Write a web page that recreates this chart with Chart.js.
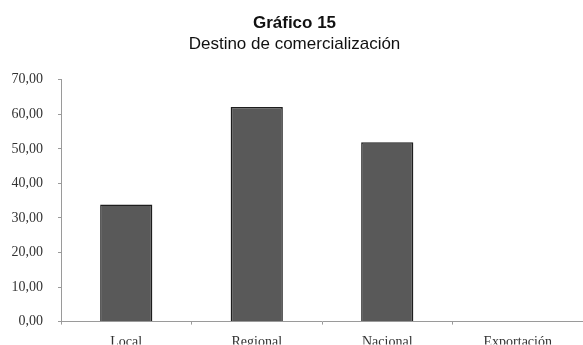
<!DOCTYPE html>
<html>
<head>
<meta charset="utf-8">
<script src="https://cdn.jsdelivr.net/npm/chart.js@4"></script>
<style>
    html, body { margin: 0; padding: 0; background: #ffffff; }
    #wrap { width: 583px; height: 345px; }
</style>
</head>
<body>
<div id="wrap"><canvas id="chart" width="583" height="345"></canvas></div>
<script>
// Chart data
const categories = ["Local", "Regional", "Nacional", "Exportación"];
const values = [33.9, 62.1, 51.9, 0];
const yTicks = [0, 10, 20, 30, 40, 50, 60, 70];

const axisColor = "#9a9a9a";
const labelColor = "#333333";

// Format numbers like "70,00"
function formatComma(v) {
    return v.toFixed(2).replace(".", ",");
}

new Chart(document.getElementById("chart"), {
    type: "bar",
    data: {
        labels: categories,
        datasets: [{
            data: values,
            backgroundColor: "#595959",
            borderColor: "#1e1e1e",
            borderWidth: 1.5,
            barPercentage: 0.4,
            categoryPercentage: 1
        }]
    },
    options: {
        responsive: false,
        animation: false,
        layout: { padding: { left: 6, right: 0, top: 0, bottom: 0 } },
        plugins: {
            legend: { display: false },
            tooltip: { enabled: false },
            title: {
                display: true,
                text: "Gráfico 15",
                color: "#111111",
                font: { family: "Liberation Sans, Arial", size: 17, weight: "bold" },
                padding: { top: 13, bottom: 1 }
            },
            subtitle: {
                display: true,
                text: "Destino de comercialización",
                color: "#111111",
                font: { family: "Liberation Sans, Arial", size: 17 },
                padding: { top: 0, bottom: 25 }
            }
        },
        scales: {
            x: {
                offset: true,
                grid: {
                    offset: true,
                    drawOnChartArea: false,
                    drawTicks: true,
                    tickLength: 3,
                    color: axisColor
                },
                border: { display: true, color: axisColor, width: 1 },
                ticks: {
                    color: labelColor,
                    padding: 9,
                    maxRotation: 0,
                    font: { family: "Liberation Serif, Times New Roman", size: 14 }
                },
                afterFit: (scale) => { scale.height = 23; }
            },
            y: {
                min: 0,
                max: 70,
                afterBuildTicks: (scale) => {
                    scale.ticks = yTicks.map(v => ({ value: v }));
                },
                grid: {
                    drawOnChartArea: false,
                    drawTicks: true,
                    tickLength: 3,
                    color: axisColor
                },
                border: { display: true, color: axisColor, width: 1 },
                ticks: {
                    color: labelColor,
                    padding: 15,
                    font: { family: "Liberation Serif, Times New Roman", size: 14 },
                    callback: (v) => formatComma(v)
                },
                afterFit: (scale) => { scale.width = 55; }
            }
        }
    }
});
</script>
</body>
</html>
